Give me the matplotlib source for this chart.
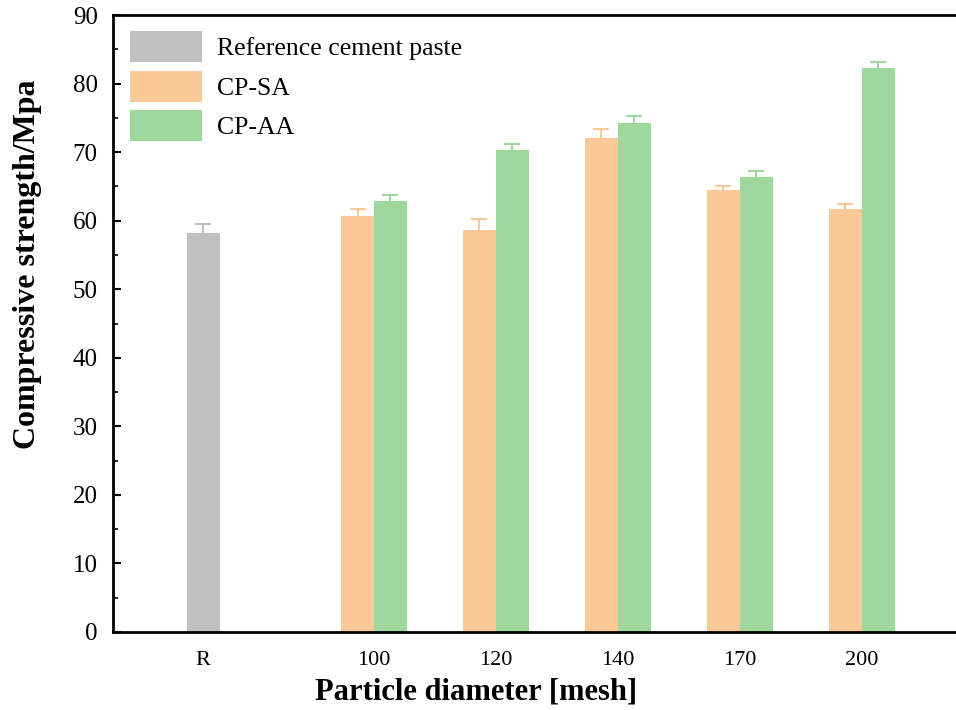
import matplotlib
matplotlib.use("Agg")
import matplotlib.pyplot as plt
import numpy as np

plt.rcParams['font.family'] = ['Liberation Serif', 'DejaVu Serif']

categories = ["R", "100", "120", "140", "170", "200"]
ref_value = 58.2
ref_err = 1.3
sa_values = [60.7, 58.7, 72.1, 64.5, 61.7]
sa_errs = [1.0, 1.6, 1.2, 0.6, 0.8]
aa_values = [62.9, 70.3, 74.2, 66.4, 82.2]
aa_errs = [0.8, 0.9, 1.1, 0.9, 0.9]

c_ref = "#C0C0C0"
c_sa = "#FBC898"
c_aa = "#9FD89D"

fig = plt.figure(figsize=(9.56, 7.1), dpi=100)
ax = fig.add_axes([113/956, 1-632/710, (960-113)/956, (632-15)/710])

pos_ref = 0.0
pos_groups = 1.4 + np.arange(len(sa_values))
w = 0.27

ax.bar([pos_ref], [ref_value], width=w, color=c_ref, yerr=[ref_err],
       error_kw=dict(ecolor=c_ref, capsize=6, elinewidth=1.5, capthick=1.5),
       label="Reference cement paste", zorder=2)
ax.bar(pos_groups - w/2, sa_values, width=w, color=c_sa, yerr=sa_errs,
       error_kw=dict(ecolor=c_sa, capsize=6, elinewidth=1.5, capthick=1.5),
       label="CP-SA", zorder=2)
ax.bar(pos_groups + w/2, aa_values, width=w, color=c_aa, yerr=aa_errs,
       error_kw=dict(ecolor=c_aa, capsize=6, elinewidth=1.5, capthick=1.5),
       label="CP-AA", zorder=2)

ax.set_xlim(-0.74, (960-203)/122)
ax.set_ylim(0, 90)
ax.set_xticks([pos_ref] + list(pos_groups))
ax.set_xticklabels(categories, fontsize=16)
ax.tick_params(axis='x', length=0, pad=14)
ax.set_yticks(np.arange(0, 91, 10))
ax.set_yticks(np.arange(5, 90, 10), minor=True)
ax.tick_params(axis='y', which='major', direction='in', length=6, width=1.5, labelsize=18, pad=11)
ax.tick_params(axis='y', which='minor', direction='in', length=3.5, width=1.2)

for s in ['left', 'bottom', 'top']:
    ax.spines[s].set_linewidth(2)
ax.spines['right'].set_visible(False)

ax.set_xlabel("Particle diameter [mesh]", fontsize=22, fontweight='bold')
ax.xaxis.set_label_coords(0.4286, -0.0730)
ax.set_ylabel("Compressive strength/Mpa", fontsize=23, fontweight='bold')
ax.yaxis.set_label_coords(-0.0838, 0.596)

leg = ax.legend(loc='upper left', frameon=False, fontsize=18.5,
                handlelength=2.8, handleheight=1.5, labelspacing=0.32,
                handletextpad=0.6, bbox_to_anchor=(17/847, 1-16/617),
                borderaxespad=0, borderpad=0)

fig.savefig("out.png", dpi=100)
